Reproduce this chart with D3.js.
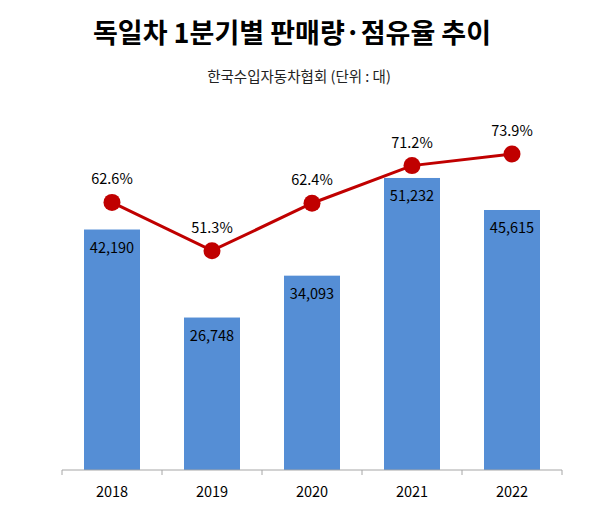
<!DOCTYPE html>
<html>
<head>
<meta charset="utf-8">
<script src="https://cdn.jsdelivr.net/npm/d3@7"></script>
<style>
    body { margin: 0; background: #fff; }
    text { font-family: "Noto Sans CJK KR", "Noto Sans", sans-serif; }
</style>
</head>
<body>
<svg id="chart" width="600" height="506"></svg>
<script>
    // 1분기 기준 독일차 판매량 / 점유율
    var years = ['2018', '2019', '2020', '2021', '2022'],
        sales = [42190, 26748, 34093, 51232, 45615],
        shares = [62.6, 51.3, 62.4, 71.2, 73.9];

    var svg = d3.select('#chart'),
        base = 470,
        plotTop = 128,
        fmt = d3.format(',');

    var x = d3.scaleBand().domain(years).range([62, 562]).paddingInner(0.44).paddingOuter(0.22),
        y = d3.scaleLinear().domain([0, 60000]).range([base, plotTop]),
        y2 = d3.scaleLinear().domain([0, 80]).range([base, plotTop]);

    svg.append('text')
        .attr('x', 292).attr('y', 43)
        .attr('text-anchor', 'middle')
        .attr('font-size', 27).attr('font-weight', 'bold')
        .attr('fill', '#000')
        .text('독일차 1분기별 판매량·점유율 추이');

    svg.append('text')
        .attr('x', 299).attr('y', 82)
        .attr('text-anchor', 'middle')
        .attr('font-size', 14.5)
        .attr('fill', '#222')
        .text('한국수입자동차협회 (단위 : 대)');

    // bars
    svg.selectAll('rect.bar')
        .data(years)
        .enter().append('rect')
        .attr('class', 'bar')
        .attr('x', function (d) { return x(d); })
        .attr('width', x.bandwidth())
        .attr('y', function (d, i) { return y(sales[i]); })
        .attr('height', function (d, i) { return base - y(sales[i]); })
        .attr('fill', '#558ed5');

    svg.selectAll('text.val')
        .data(years)
        .enter().append('text')
        .attr('class', 'val')
        .attr('x', function (d) { return x(d) + x.bandwidth() / 2; })
        .attr('y', function (d, i) { return y(sales[i]) + 23; })
        .attr('text-anchor', 'middle')
        .attr('font-family', 'Open Sans, sans-serif')
        .attr('font-size', 14.5)
        .attr('fill', '#000')
        .text(function (d, i) { return fmt(sales[i]); });

    // axis: ticks sit between categories
    var ax = svg.append('g').attr('transform', 'translate(0,' + base + ')');
    ax.append('line')
        .attr('x1', 62).attr('x2', 562)
        .attr('stroke', '#a6a6a6').attr('stroke-width', 1);
    var edges = years.map(function (d) { return x(d) - x.step() * x.paddingInner() / 2; });
    edges.push(562);
    ax.selectAll('line.tick')
        .data(edges)
        .enter().append('line')
        .attr('class', 'tick')
        .attr('x1', function (d) { return d; }).attr('x2', function (d) { return d; })
        .attr('y1', 0).attr('y2', 5)
        .attr('stroke', '#a6a6a6');
    ax.selectAll('text')
        .data(years)
        .enter().append('text')
        .attr('x', function (d) { return x(d) + x.bandwidth() / 2; })
        .attr('y', 27)
        .attr('text-anchor', 'middle')
        .attr('font-family', 'Open Sans, sans-serif')
        .attr('font-size', 14.5)
        .attr('fill', '#000')
        .text(function (d) { return d; });

    // share line
    var cx = function (d, i) { return x(years[i]) + x.bandwidth() / 2; },
        line = d3.line().x(cx).y(function (d) { return y2(d); });

    svg.append('path')
        .datum(shares)
        .attr('d', line)
        .attr('fill', 'none')
        .attr('stroke', '#c00000')
        .attr('stroke-width', 3);

    svg.selectAll('circle')
        .data(shares)
        .enter().append('circle')
        .attr('cx', cx)
        .attr('cy', function (d) { return y2(d); })
        .attr('r', 8.5)
        .attr('fill', '#c00000');

    svg.selectAll('text.pct')
        .data(shares)
        .enter().append('text')
        .attr('class', 'pct')
        .attr('x', cx)
        .attr('y', function (d) { return y2(d) - 18; })
        .attr('text-anchor', 'middle')
        .attr('font-family', 'Open Sans, sans-serif')
        .attr('font-size', 14.5)
        .attr('fill', '#000')
        .text(function (d) { return d.toFixed(1) + '%'; });
</script>
</body>
</html>
